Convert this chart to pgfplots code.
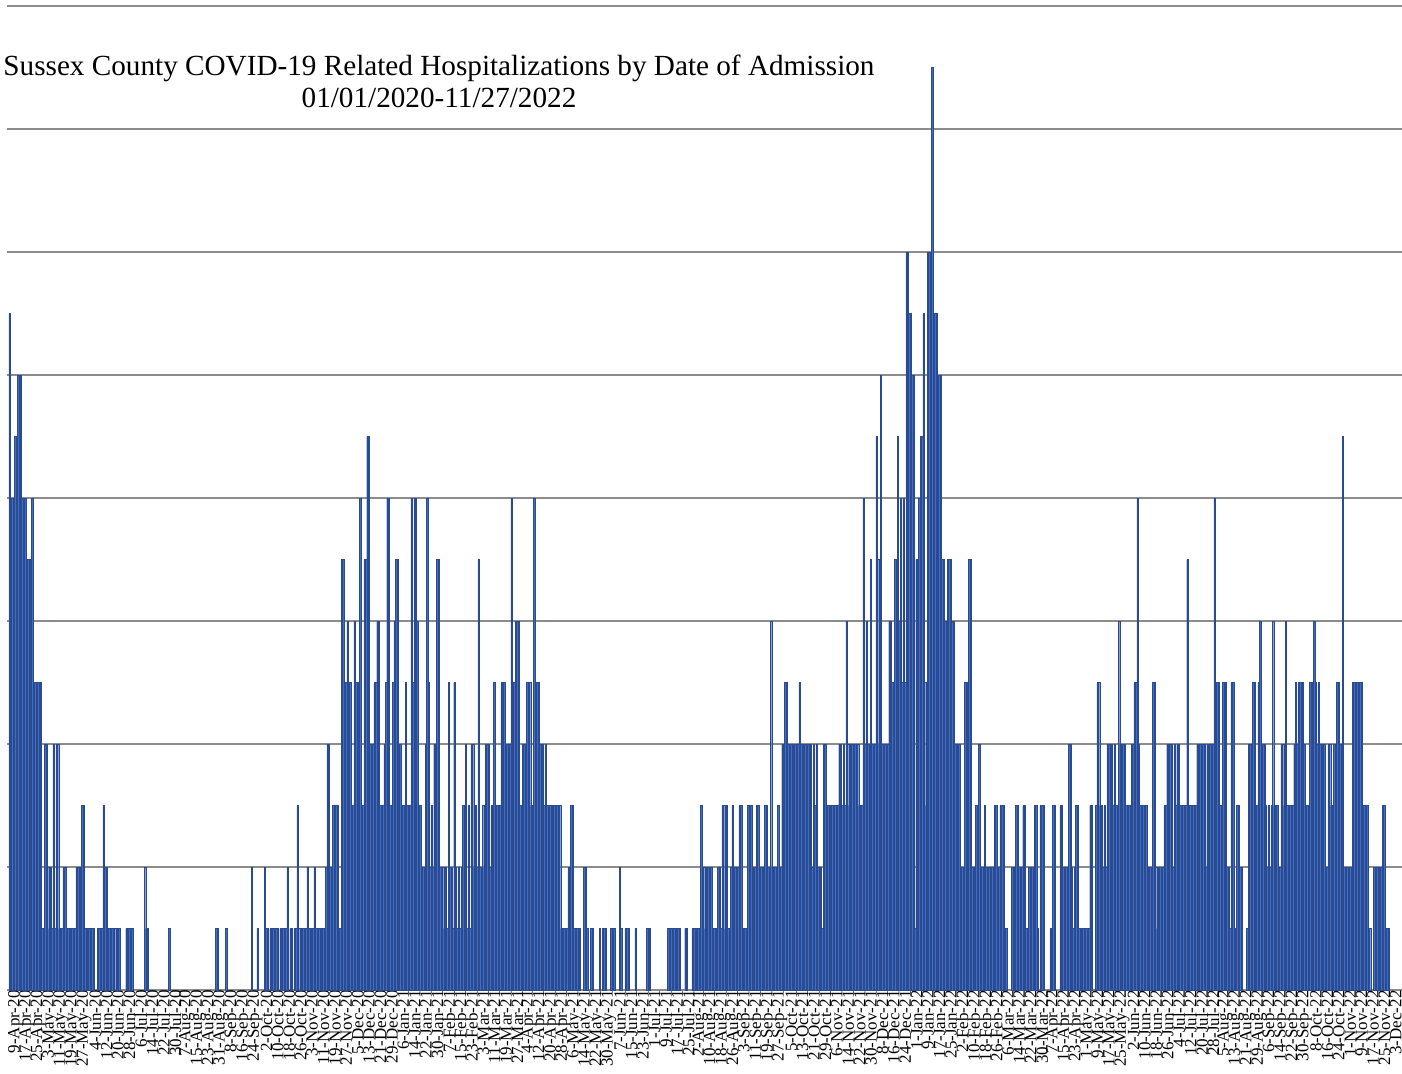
\documentclass[border=0pt]{standalone}
\usepackage{fontspec}
\setmainfont{Liberation Serif}
\usepackage{pgfplots}
\pgfplotsset{compat=1.18}
\definecolor{barfill}{RGB}{66,110,194}
\definecolor{baredge}{RGB}{42,74,146}
\definecolor{gridc}{RGB}{140,140,140}
\begin{document}
\begin{tikzpicture}
\useasboundingbox (-3.5pt,-41.5pt) rectangle (697.5pt,495pt);
\begin{axis}[
  at={(0,0)}, anchor=south west,
  scale only axis, width=697.5pt, height=492pt,
  xmin=-1.75, xmax=976.5, ymin=0, ymax=16,
  axis line style={draw=none},
  ytick={0,2,...,16}, yticklabel={},
  ymajorgrids, grid style={gridc, line width=1.2pt},
  xtick={0,8,...,968},
  xticklabels={9-Apr-20,17-Apr-20,25-Apr-20,3-May-20,11-May-20,19-May-20,27-May-20,4-Jun-20,12-Jun-20,20-Jun-20,28-Jun-20,6-Jul-20,14-Jul-20,22-Jul-20,30-Jul-20,7-Aug-20,15-Aug-20,23-Aug-20,31-Aug-20,8-Sep-20,16-Sep-20,24-Sep-20,2-Oct-20,10-Oct-20,18-Oct-20,26-Oct-20,3-Nov-20,11-Nov-20,19-Nov-20,27-Nov-20,5-Dec-20,13-Dec-20,21-Dec-20,29-Dec-20,6-Jan-21,14-Jan-21,22-Jan-21,30-Jan-21,7-Feb-21,15-Feb-21,23-Feb-21,3-Mar-21,11-Mar-21,19-Mar-21,27-Mar-21,4-Apr-21,12-Apr-21,20-Apr-21,28-Apr-21,6-May-21,14-May-21,22-May-21,30-May-21,7-Jun-21,15-Jun-21,23-Jun-21,1-Jul-21,9-Jul-21,17-Jul-21,25-Jul-21,2-Aug-21,10-Aug-21,18-Aug-21,26-Aug-21,3-Sep-21,11-Sep-21,19-Sep-21,27-Sep-21,5-Oct-21,13-Oct-21,21-Oct-21,29-Oct-21,6-Nov-21,14-Nov-21,22-Nov-21,30-Nov-21,8-Dec-21,16-Dec-21,24-Dec-21,1-Jan-22,9-Jan-22,17-Jan-22,25-Jan-22,2-Feb-22,10-Feb-22,18-Feb-22,26-Feb-22,6-Mar-22,14-Mar-22,22-Mar-22,30-Mar-22,7-Apr-22,15-Apr-22,23-Apr-22,1-May-22,9-May-22,17-May-22,25-May-22,2-Jun-22,10-Jun-22,18-Jun-22,26-Jun-22,4-Jul-22,12-Jul-22,20-Jul-22,28-Jul-22,5-Aug-22,13-Aug-22,21-Aug-22,29-Aug-22,6-Sep-22,14-Sep-22,22-Sep-22,30-Sep-22,8-Oct-22,16-Oct-22,24-Oct-22,1-Nov-22,9-Nov-22,17-Nov-22,25-Nov-22,3-Dec-22},
  xticklabel style={font=\fontsize{8.5}{8.5}\selectfont, rotate=90, anchor=east, inner sep=0pt, yshift=-3pt},
  tick style={draw=none},
  restrict y to domain=0.5:20,
]
\addplot[ybar, bar width=1, fill=barfill, draw=baredge, line width=0.15pt]
 table[row sep=\\, header=false, x expr=\coordindex, y index=0] {
11\\5\\8\\8\\9\\9\\10\\10\\10\\8\\
5\\8\\7\\7\\7\\4\\8\\5\\5\\3\\
5\\5\\5\\1\\1\\4\\4\\2\\1\\2\\
1\\4\\1\\4\\4\\1\\1\\1\\2\\2\\
1\\1\\1\\0\\1\\1\\1\\2\\2\\2\\
1\\3\\3\\1\\1\\1\\1\\1\\1\\1\\
0\\0\\1\\1\\1\\1\\3\\2\\2\\1\\
1\\1\\1\\1\\1\\0\\1\\1\\0\\0\\
0\\0\\1\\0\\1\\1\\1\\0\\0\\0\\
0\\0\\0\\0\\0\\2\\1\\1\\0\\0\\
0\\0\\0\\0\\0\\0\\0\\0\\0\\0\\
0\\0\\1\\0\\0\\0\\0\\0\\0\\0\\
0\\0\\0\\0\\0\\0\\0\\0\\0\\0\\
0\\0\\0\\0\\0\\0\\0\\0\\0\\0\\
0\\0\\0\\0\\0\\1\\1\\0\\0\\0\\
0\\0\\1\\0\\0\\0\\0\\0\\0\\0\\
0\\0\\0\\0\\0\\0\\0\\0\\0\\0\\
2\\0\\0\\0\\1\\0\\0\\0\\0\\2\\
1\\1\\0\\1\\1\\1\\1\\1\\1\\0\\
1\\1\\1\\0\\1\\2\\0\\1\\1\\0\\
1\\1\\3\\1\\0\\1\\1\\1\\1\\2\\
1\\1\\1\\1\\2\\1\\1\\1\\1\\1\\
1\\1\\2\\4\\4\\2\\2\\3\\2\\3\\
3\\1\\1\\7\\7\\5\\5\\6\\5\\5\\
2\\3\\6\\5\\5\\4\\8\\3\\3\\7\\
7\\9\\9\\4\\4\\4\\5\\5\\6\\6\\
3\\2\\3\\4\\5\\8\\8\\3\\3\\5\\
6\\7\\7\\4\\4\\3\\3\\3\\5\\3\\
3\\3\\8\\5\\8\\8\\6\\3\\3\\2\\
2\\2\\4\\8\\5\\2\\3\\2\\4\\4\\
7\\7\\2\\1\\2\\1\\2\\1\\5\\2\\
2\\1\\5\\2\\1\\2\\1\\2\\3\\3\\
4\\1\\3\\1\\4\\4\\2\\3\\2\\7\\
2\\2\\3\\2\\4\\4\\4\\2\\3\\2\\
5\\2\\3\\2\\3\\5\\5\\5\\4\\4\\
3\\4\\8\\5\\5\\6\\6\\6\\3\\3\\
4\\4\\4\\5\\5\\5\\3\\2\\8\\3\\
5\\5\\4\\4\\4\\3\\4\\3\\3\\3\\
3\\3\\3\\3\\3\\3\\3\\1\\1\\1\\
1\\1\\2\\1\\3\\3\\1\\1\\1\\1\\
1\\0\\0\\2\\2\\1\\0\\0\\1\\1\\
0\\0\\0\\0\\1\\0\\1\\1\\1\\0\\
0\\0\\1\\1\\1\\0\\0\\0\\2\\1\\
0\\0\\1\\1\\1\\0\\0\\0\\0\\1\\
0\\0\\0\\0\\0\\0\\0\\1\\1\\1\\
0\\0\\0\\0\\0\\0\\0\\0\\0\\0\\
0\\0\\1\\1\\1\\0\\1\\1\\0\\1\\
1\\0\\0\\0\\1\\1\\0\\0\\0\\1\\
1\\1\\0\\1\\1\\3\\1\\2\\1\\2\\
2\\1\\2\\1\\1\\1\\1\\2\\2\\1\\
3\\3\\1\\3\\1\\1\\2\\3\\2\\2\\
2\\2\\3\\3\\1\\1\\1\\1\\3\\2\\
3\\2\\2\\2\\3\\3\\2\\2\\2\\2\\
3\\3\\2\\2\\6\\2\\2\\2\\2\\3\\
2\\2\\4\\4\\5\\5\\4\\3\\4\\4\\
4\\4\\3\\4\\5\\4\\4\\3\\4\\2\\
4\\3\\4\\2\\4\\3\\4\\2\\2\\2\\
1\\4\\4\\3\\3\\3\\3\\3\\1\\3\\
3\\3\\4\\4\\3\\4\\3\\6\\4\\3\\
4\\4\\3\\4\\1\\4\\3\\3\\3\\8\\
4\\6\\4\\4\\7\\4\\4\\4\\9\\7\\
4\\10\\4\\4\\4\\4\\4\\6\\6\\5\\
5\\7\\7\\9\\6\\8\\5\\8\\5\\12\\
12\\11\\11\\10\\10\\1\\7\\7\\8\\9\\
9\\11\\5\\3\\12\\12\\12\\15\\5\\11\\
11\\8\\10\\10\\7\\7\\6\\6\\7\\7\\
7\\6\\6\\4\\4\\3\\4\\2\\2\\2\\
5\\5\\2\\7\\7\\2\\2\\2\\3\\3\\
4\\2\\2\\2\\3\\2\\2\\2\\2\\2\\
2\\3\\3\\1\\2\\3\\3\\3\\1\\1\\
0\\0\\0\\2\\2\\2\\3\\3\\2\\2\\
2\\3\\3\\1\\1\\2\\2\\2\\2\\3\\
3\\1\\0\\3\\3\\3\\0\\0\\0\\0\\
1\\1\\3\\3\\0\\0\\0\\3\\3\\2\\
2\\2\\2\\4\\4\\2\\1\\2\\3\\3\\
1\\1\\1\\1\\1\\1\\1\\1\\3\\3\\
0\\0\\3\\5\\5\\3\\3\\2\\3\\2\\
4\\4\\4\\4\\3\\4\\3\\3\\6\\4\\
4\\4\\4\\3\\3\\3\\3\\4\\4\\5\\
5\\8\\4\\3\\3\\3\\3\\3\\2\\1\\
2\\2\\5\\5\\2\\1\\2\\2\\2\\2\\
3\\3\\4\\3\\4\\4\\2\\4\\3\\4\\
4\\3\\3\\3\\3\\3\\7\\3\\3\\3\\
3\\3\\3\\4\\4\\4\\4\\4\\4\\2\\
4\\4\\4\\4\\4\\8\\3\\5\\5\\3\\
3\\5\\5\\5\\2\\2\\1\\5\\5\\1\\
1\\3\\3\\2\\2\\0\\0\\0\\1\\4\\
4\\1\\5\\5\\3\\3\\5\\6\\4\\4\\
4\\3\\2\\3\\2\\3\\6\\3\\3\\3\\
2\\2\\4\\4\\3\\6\\3\\3\\3\\3\\
3\\4\\5\\4\\5\\5\\3\\5\\4\\3\\
3\\3\\5\\5\\5\\6\\5\\4\\5\\4\\
4\\4\\4\\2\\2\\4\\4\\3\\3\\4\\
4\\5\\5\\4\\4\\9\\2\\2\\2\\2\\
2\\2\\5\\5\\1\\5\\5\\5\\5\\1\\
3\\3\\3\\1\\1\\0\\0\\2\\2\\2\\
2\\2\\2\\3\\3\\1\\1\\1\\
};
\end{axis}
\node[anchor=base, font=\fontsize{14.6}{16}\selectfont, inner sep=0pt] at (216pt,457pt) {Sussex County COVID-19 Related Hospitalizations by Date of Admission};
\node[anchor=base, font=\fontsize{14.6}{16}\selectfont, inner sep=0pt] at (216pt,441pt) {01/01/2020-11/27/2022};
\end{tikzpicture}
\end{document}
